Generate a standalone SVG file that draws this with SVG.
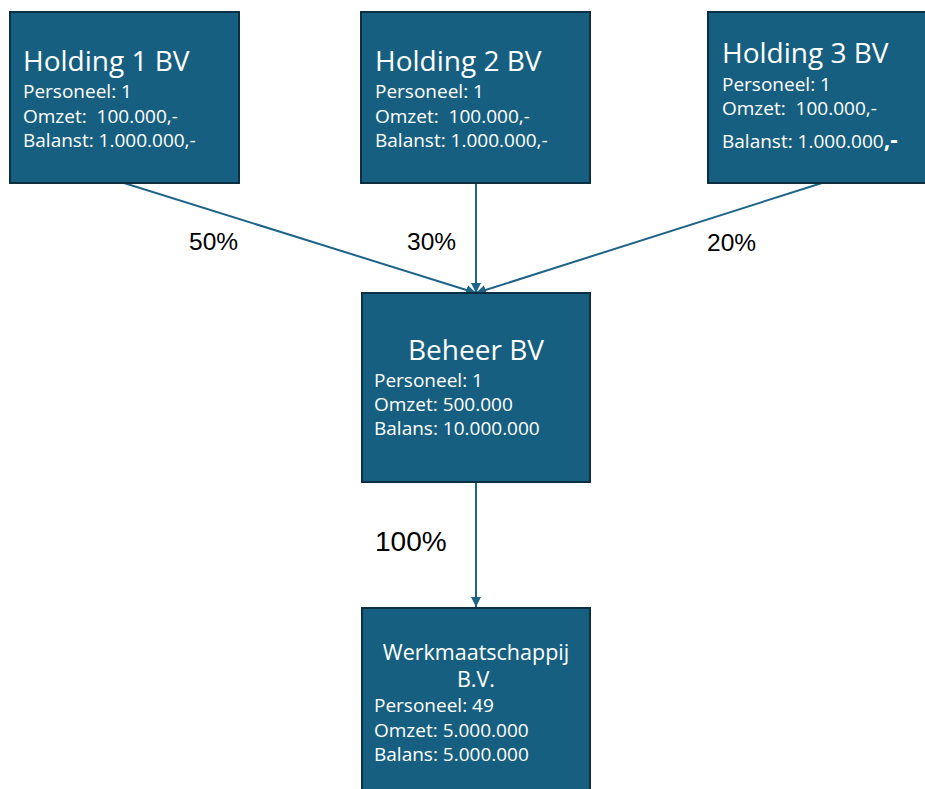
<svg xmlns="http://www.w3.org/2000/svg" width="925" height="789" viewBox="0 0 925 789">
<style>
.box{fill:#175F80;stroke:#0C2F43;stroke-width:2}
.t{font-family:"Open Sans","Liberation Sans",sans-serif;fill:#FFFFFF;white-space:pre}
.title{font-size:28px}
.body{font-size:19px}
.pct{font-family:"Liberation Sans",Arial,sans-serif;fill:#000000;font-size:24.5px}
.conn{stroke:#1D6488;stroke-width:2;fill:none}
</style>
<defs>
<marker id="arr" viewBox="0 0 10 10" refX="10" refY="5" markerWidth="5" markerHeight="5" orient="auto" markerUnits="strokeWidth">
<path d="M0,0 L10,5 L0,10 z" fill="#1D6488"/>
</marker>
</defs>
<rect width="925" height="789" fill="#FFFFFF"/>
<g id="connectors">
<line class="conn" x1="124" y1="183" x2="476" y2="293" marker-end="url(#arr)"/>
<line class="conn" x1="476" y1="183" x2="476" y2="293" marker-end="url(#arr)"/>
<line class="conn" x1="822" y1="183" x2="476" y2="293" marker-end="url(#arr)"/>
<line class="conn" x1="476" y1="482" x2="476" y2="607" marker-end="url(#arr)"/>
</g>
<g id="labels">
<text class="pct" x="189" y="250">50%</text>
<text class="pct" x="407" y="250">30%</text>
<text class="pct" x="707" y="251">20%</text>
<text class="pct" x="375" y="551" style="font-size:28px">100%</text>
</g>
<g id="holding1">
<rect class="box" x="10" y="12" width="229" height="171"/>
<text class="t title" x="23" y="71">Holding 1 BV</text>
<text class="t body" x="23" y="98">Personeel: 1</text>
<text class="t body" x="23" y="123" xml:space="preserve">Omzet:  100.000,-</text>
<text class="t body" x="23" y="147">Balanst: 1.000.000,-</text>
</g>
<g id="holding2">
<rect class="box" x="361" y="12" width="229" height="171"/>
<text class="t title" x="375" y="71">Holding 2 BV</text>
<text class="t body" x="375" y="98">Personeel: 1</text>
<text class="t body" x="375" y="123" xml:space="preserve">Omzet:  100.000,-</text>
<text class="t body" x="375" y="147">Balanst: 1.000.000,-</text>
</g>
<g id="holding3">
<rect class="box" x="708" y="12" width="229" height="171"/>
<text class="t title" x="722" y="63">Holding 3 BV</text>
<text class="t body" x="722" y="91">Personeel: 1</text>
<text class="t body" x="722" y="115" xml:space="preserve">Omzet:  100.000,-</text>
<text class="t body" x="722" y="148">Balanst: 1.000.000<tspan style="font-size:23px;font-weight:bold">,-</tspan></text>
</g>
<g id="beheer">
<rect class="box" x="362" y="293" width="228" height="189"/>
<text class="t title" x="476" y="360" text-anchor="middle">Beheer BV</text>
<text class="t body" x="374" y="387">Personeel: 1</text>
<text class="t body" x="374" y="411">Omzet: 500.000</text>
<text class="t body" x="374" y="435">Balans: 10.000.000</text>
</g>
<g id="werkmaatschappij">
<rect class="box" x="362" y="608" width="228" height="200"/>
<text class="t" x="476" y="660" text-anchor="middle" style="font-size:21.5px">Werkmaatschappij</text>
<text class="t" x="476" y="687" text-anchor="middle" style="font-size:21.5px">B.V.</text>
<text class="t body" x="374" y="712">Personeel: 49</text>
<text class="t body" x="374" y="737">Omzet: 5.000.000</text>
<text class="t body" x="374" y="761">Balans: 5.000.000</text>
</g>
</svg>
